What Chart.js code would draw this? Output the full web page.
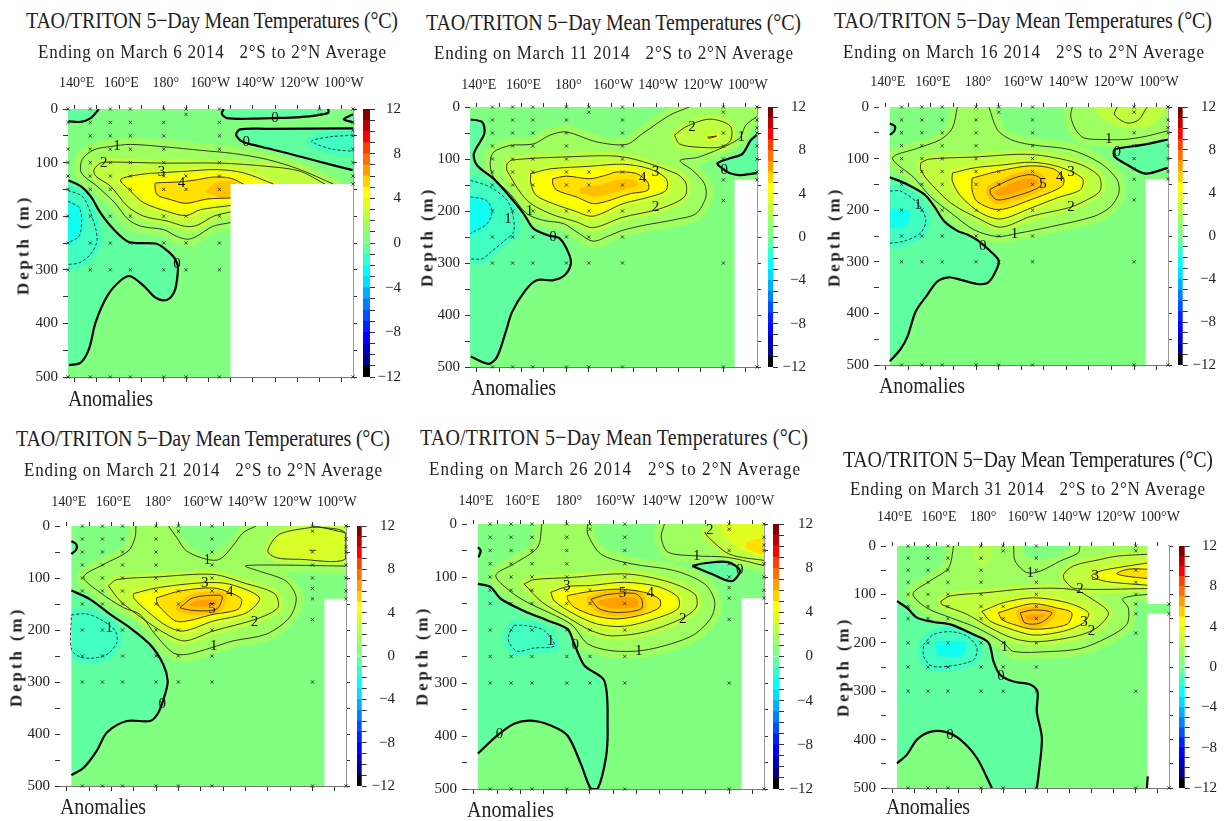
<!DOCTYPE html>
<html>
<head>
<meta charset="utf-8">
<title>TAO/TRITON 5-Day Mean Temperatures</title>
<script src="https://cdn.jsdelivr.net/npm/chart.js@4/dist/chart.umd.min.js"></script>
<style>
html,body{margin:0;background:#fff;overflow:hidden}
#page{position:relative;width:1227px;height:821px}
canvas{position:absolute}
.txt{position:absolute;white-space:pre;font-family:"Liberation Serif",serif;color:#222;line-height:1;transform:translateY(-50%) scaleY(1.15)}
.depth{font-weight:bold;font-size:17px;transform:translate(-50%,-50%) rotate(-90deg)}
</style>
</head>
<body>
<div id="page"></div>
<script>
// axis values
const lonTicks = [140,150,160,170,180,190,200,210,220,230,240,250,260];
const lonLabels = ['140°E','','160°E','','180°','','160°W','','140°W','','120°W','','100°W'];
const barLevels = [-12,-11,-10,-9,-8,-7,-6,-5,-4,-3,-2,-1,0,1,2,3,4,5,6,7,8,9,10,11,12];
const barColors = ['#000000','#000090','#0000C0','#0000FF','#0020FF','#0050FF','#0080FF','#00B0FF','#00DFFF','#00FFFF','#30FFD0','#60FFA0','#80FF80','#A0FF60','#C0FF40','#E0FF20','#FFFF00','#FFD000','#FFA000','#FF7000','#FF4000','#FF0000','#C00000','#800000'];

// mooring longitudes and the depths sampled there
const depthsFull = [0,25,50,75,100,125,150,200,250,300,500];
const depths137 = [0,25,75,100,125,150,200,250,300,500];
const depths190 = [0,10,125,150,200,250,300,500];
const depths250 = [0,10,50,75,100,120,140,180,300,500];
const depths250Top = [0,10];
const depths265 = [0,25,40,50,75,100,125,140,500];
const depths265End = [120,140,500];

const wholeSection = [[136,-5],[266,-5],[266,505],[136,505]];

// 6 March
const p1Zero1 = [[137.2,23],[142.7,24],[147.2,17],[150.1,4],[150.9,0]];
const p1Zero2 = [[206.9,0],[206.1,9],[208.4,17],[220.3,18],[229.3,17],[241.2,15],[248.7,12],[253.9,7],[253.9,0]];
const p1Zero3 = [[265,36],[226,37],[214.3,38],[212.5,48],[215,60],[223.3,70],[235.2,82],[248.7,97],[264.8,114]];
const p1Zero4 = [[137.2,133],[142.7,144],[147.2,163],[151.6,194],[157.6,225],[164.3,248],[176.3,251],[180,259],[184.5,276],[186,288],[186.4,299],[185.2,336],[183,352],[180,357],[176.3,352],[171,330],[165,312],[160.6,320],[154.6,349],[149.4,398],[146.4,448],[142.7,473],[137.5,478]];
const p1Tip = [[265,10],[260.8,19],[265,25]];
const p1Neg1 = [[137,152],[143.4,163],[147.2,194],[150.1,243],[147.2,271],[142,287],[137,290]];
const p1Neg2 = [[137,172],[142,184],[143.1,206],[142,237],[137,250]];
const p1NegRight = [[265,49],[254.6,52],[246.4,60],[254.6,74],[265,79]];
const p1L1 = [[210,212],[202,219],[195,237],[191,243],[186,238],[180,225],[170,219],[164,206],[158,175],[150,144],[143,119],[143.4,94],[148.7,76],[156.1,70],[165,66],[181.5,71],[196.4,77],[211.3,83],[226.3,94],[241.2,113],[256.1,140]];
const p1L2 = [[210,192],[202.4,200],[195,217],[189.7,219],[181.5,209],[171,200],[163.6,181],[156.1,144],[149.4,125],[148.7,113],[151.6,101],[156.1,99],[180,101],[205.4,101],[226.3,107],[241.2,116],[252.4,140]];
const p1L3 = [[210,180],[196.4,188],[190,199],[181.5,191],[171,175],[165.1,153],[160.6,132],[169.6,122],[178.5,119],[190.4,116],[203.9,113],[215.8,119],[229.3,140]];
const p1L4 = [[210,166],[199.4,168],[190,176],[183,169],[177,160],[176,141],[176.3,138],[187.5,136],[194.9,132],[202.4,127],[209.9,129],[215.8,140]];
const p1Core = [[199,155],[203,138],[212,136],[212,163],[205,165]];
const p1Mask = [[210,140],[266,140],[266,505],[210,505]];
const p1Numbers = [[159,70,'1'],[153,101,'2'],[179,118,'3'],[188,138,'4'],[230,17,'0'],[217,62,'0'],[186,289,'0']];

// 11 March
const p2Zero1 = [[137.3,24],[142.4,29],[143.4,51],[138.7,90],[140.1,112],[147.5,138],[154.9,173],[160.9,205],[165.3,234],[172,247],[177.1,253],[180.8,279],[182,301],[179.3,323],[174.2,333],[166.8,333],[161.6,353],[155.7,395],[152.7,436],[149,481],[145.3,494],[137.3,480]];
const p2Zero2 = [[264.9,54],[262.2,64],[258.5,90],[252.6,99],[247.4,108],[247.8,112],[250.4,121],[252.6,127],[257,131],[264.9,127]];
const p2Neg1 = [[137.3,141],[146,154],[153.5,179],[156,205],[156.5,240],[152.7,256],[146,280],[142.4,292],[137.3,292]];
const p2Neg2 = [[137.3,173],[144,179],[146.8,199],[144.7,224],[137.3,243]];
const p2L1 = [[234.8,0],[226,16],[214,51],[206.7,72],[193.4,67],[180,48],[172.7,54],[165.3,71],[154.9,74],[147.5,87],[146,109],[147.5,135],[154.9,167],[162.3,205],[169.7,218],[178.6,224],[184.5,240],[191.9,258],[199.3,247],[205.2,237],[214,228],[229,216],[237.8,205],[242.2,173],[241.5,147],[236.3,122],[230.7,103],[239.3,96],[257,61],[260,35],[265,18]];
const p2L2 = [[153.5,109],[155.7,102],[180,96],[205.2,96],[228.9,128],[233.3,147],[232.6,173],[221.5,196],[205.2,212],[191.9,232],[184.5,221],[172.7,205],[162.3,179],[153.5,122]];
const p2L3 = [[164.1,128],[172.7,119],[190.4,114],[205.2,110],[217.1,119],[224.5,138],[224.5,160],[217.1,173],[205.2,186],[191.9,210],[183,199],[174.2,186],[166.5,170],[164.1,147]];
const p2L4 = [[173.9,138],[180,133],[190.4,138],[197.8,131],[202.3,125],[211.2,128],[216.3,145],[216.3,160],[208.2,167],[192.7,186],[184.5,173],[175.7,160],[173.9,148]];
const p2Core = [[186,155],[195,150],[203,140],[210,140],[212,150],[205,160],[192,172],[186,165]];
const p2Lobe2 = [[228.2,54],[233.3,38],[242.2,24],[248.1,26],[253.3,38],[253.3,64],[248.9,77],[237.8,77],[230.4,71]];
const p2Lobe3 = [[243,58],[247,56],[243.7,60]];
const p2Mask = [[255,140],[266,140],[266,505],[255,505]];
const p2Numbers = [[236,38,'2'],[258,58,'1'],[250.4,122,'0'],[219.7,126,'3'],[214,136,'4'],[219.7,193,'2'],[163.5,200,'1'],[154,215,'1'],[174,250,'0']];

// 16 March
const p3Zero1 = [[141.8,136],[149.6,150],[157,169],[161.4,192],[165.8,221],[171.7,240],[176.1,247],[180.6,258],[187.2,283],[190.1,299],[187.9,325],[185,341],[180.6,343],[173.2,335],[168,330],[162.9,338],[158.4,364],[153.3,396],[149.6,445],[146.6,469],[141.8,493]];
const p3Zero2 = [[141.8,32],[144,37],[143.7,47],[141.8,54]];
const p3Zero3 = [[264.9,63],[254.3,73],[244.7,79],[241.3,83],[241.3,96],[246.9,112],[255,129],[264.9,118]];
const p3Neg1 = [[141.8,163],[146.6,163],[154,186],[157.7,218],[155.5,244],[148.1,260],[141.8,264]];
const p3NegCore = [[141,196],[150,200],[151,215],[148,231],[141,232]];
const p3L1a = [[171.7,0],[169.5,41],[164.3,63],[154,80],[143,99],[152.5,137],[159.9,174],[168.8,205],[179.1,238],[189.4,251],[198.3,245],[213,232],[232.2,212],[239.6,193],[243.2,167],[242.5,141],[235.1,109],[221.9,83],[204.2,73],[195.3,63],[189.4,44],[185.7,0]];
const p3L1b = [[222.6,0],[221.9,18],[224.1,44],[227.8,60],[236.6,63],[245.5,63],[255,57],[264.9,46]];
const p3L2a = [[155.5,108],[159.2,101],[179.1,97],[204.2,92],[224.8,109],[234.4,134],[234.8,163],[226.3,186],[220.4,196],[204.2,212],[190.9,233],[180.6,215],[168.8,186],[158.4,141],[155.5,121]];
const p3L2b = [[242.5,0],[241.3,15],[246.9,31],[252,25],[255,5],[255.8,0]];
const p3Fill2b = [[232,-2],[235,18],[243,37],[256,38],[262,20],[264,-2]];
const p3L3 = [[169.5,128],[179.1,118],[192.4,112],[204.2,107],[216,115],[227,138],[226.3,160],[216,176],[204.2,196],[190.9,217],[182,205],[173.2,173],[169.5,144]];
const p3L4 = [[178.2,138],[189.3,125],[204,114],[214.3,120],[218.8,138],[218,154],[204,180],[190,199],[180.4,183],[178.2,160]];
const p3L5 = [[186.3,159],[196.6,138],[204,131],[208.4,138],[208.4,154],[197.4,173],[189.3,180],[186.3,167]];
const p3Mask = [[255,140],[266,140],[266,505],[255,505]];
const p3MaskLeft = [[136,-5],[141.8,-5],[141.8,505],[136,505]];
const p3Numbers = [[238.8,63,'1'],[242.5,88,'0'],[222,127,'3'],[217,136,'4'],[209.6,150,'5'],[222,194,'2'],[197,246,'1'],[183,269,'0'],[154.3,191,'1']];

// 21 March
const p4Zero1 = [[142.1,124],[150.5,141],[159.5,170],[168.4,196],[177.3,228],[183.2,266],[185.2,298],[184,324],[181,359],[177.3,375],[166.9,375],[158,397],[153.5,432],[147.6,465],[142.1,479]];
const p4Zero2 = [[142.1,29],[144.3,35],[144.3,45],[142.1,54]];
const p4Neg1 = [[142.1,171],[149,169],[156.5,183],[161.7,202],[162.5,224],[158,247],[152,254],[146,252],[142.1,237]];
const p4L1a = [[171,0],[170.6,22],[167.6,48],[156.5,74],[147.6,98],[155,128],[165.4,157],[172.8,170],[179.5,208],[187.7,244],[193.6,247],[204.8,234],[214.4,221],[229.3,208],[239.7,176],[242.7,138],[238.2,106],[226.3,87],[220,77],[229.3,75],[264.7,77]];
const p4L1b = [[185.5,0],[189.2,22],[193.6,48],[202.6,64],[208.5,64],[214.4,38],[218.9,13],[224.8,0]];
const p4Trough = [[189,-2],[194,32],[200,50],[206,50],[212,32],[218,-2]];
const p4L2a = [[158.7,115],[162.4,103],[180.3,98],[205.5,93],[218.9,109],[233,130],[234.5,157],[224.8,179],[205.5,202],[192.9,221],[184.7,208],[174.3,179],[163.9,144]];
const p4L2b = [[250.1,2],[235.2,16],[230,48],[233.8,61],[244.2,64],[264.7,64]];
const p4L2bEnd = [[264.7,13],[253,2],[250.1,2]];
const p4Fill2b = [[236,14],[232,46],[236,60],[266,62],[266,16],[252,5]];
const p4L3 = [[169.9,130],[180.3,119],[201.1,109],[213,112],[226.3,138],[220.4,167],[205.5,183],[192.2,202],[184.7,192],[175.8,163],[169.9,138]];
const p4L4 = [[180.3,138],[190.7,125],[205.5,119],[213,128],[218.2,141],[216.7,160],[205.5,170],[189.9,184],[183.2,163],[180.3,147]];
const p4L5 = [[190.7,157],[196.6,138],[208.5,133],[209.7,138],[207,160],[198.1,163],[192.9,160]];
const p4Mask = [[255.3,140],[266,140],[266,505],[255.3,505]];
const p4MaskLeft = [[136,-5],[142.1,-5],[142.1,505],[136,505]];
const p4Numbers = [[202.9,66,'1'],[201.8,109,'3'],[213,128,'4'],[205,160,'5'],[224,184,'2'],[205.8,231,'1'],[182.8,343,'0'],[159,196,'1'],[250,48,'\u2212']];

// 26 March
const p5Zero1 = [[141.7,113],[147.2,119],[151.5,141],[161.6,164],[171.7,182],[180.3,198],[183.2,226],[187.6,267],[196.2,296],[197.6,384],[196.9,440],[193.3,500],[190.4,500],[186.1,453],[180.3,399],[173.1,380],[164.5,371],[157.3,377],[150.1,399],[141.7,433]];
const p5Zero2 = [[141.7,44],[142.9,50],[142,63]];
const p5Zero3 = [[234.1,79],[239.4,74],[249.5,72],[254.6,88],[251,108],[242.3,94]];
const p5Neg1 = [[157.3,191],[163,192],[170.3,201],[174.6,230],[165.9,234],[158.7,240],[155.1,223],[155.1,208]];
const p5L1a = [[169.3,0],[167.4,44],[157.3,75],[149.4,97],[155.9,128],[163.1,148],[181.8,189],[189,226],[199.1,239],[212,239],[225,226],[235.1,208],[242.3,176],[243.7,145],[239.4,113],[226.5,88],[207.7,75],[194.8,57],[189,19],[189,0]];
const p5L1b = [[222.1,0],[220.7,25],[223.6,53],[235.1,60],[249.5,63],[265.4,79]];
const p5L2a = [[161.6,113],[165.9,105],[181.8,101],[204.8,94],[222.1,107],[235.1,132],[235.8,157],[229.3,179],[213.5,204],[199.1,211],[190.4,201],[180.3,176],[169.5,148]];
const p5L2b = [[239.4,15],[241,25],[250.2,57],[265.4,69]];
const p5Fill3 = [[246,-2],[248,22],[255,48],[266,58],[266,-2]];
const p5Fill4 = [[266,25],[258,33],[257,43],[262,55],[266,58]];
const p5L3 = [[173.1,129],[180.3,118],[190.4,116],[204.8,110],[219.2,118],[227.9,138],[227.9,160],[217.8,179],[204.8,193],[193.3,189],[183.2,170],[174.6,145]];
const p5L4 = [[180.3,135],[189,128],[201.9,123],[213.5,129],[220,142],[220,157],[213.5,170],[201.9,179],[191.9,173],[183.2,157],[180.3,142]];
const p5L5 = [[190.4,142],[197.6,133],[209.2,131],[212.3,142],[212,160],[202,167],[194,160]];
const p5Mask = [[255.3,140],[266,140],[266,505],[255.3,505]];
const p5MaskLeft = [[136,-5],[141.7,-5],[141.7,505],[136,505]];
const p5Numbers = [[241.6,11,'2'],[236,60,'1'],[254.6,87,'0'],[180,118,'3'],[204,131,'5'],[216,131,'4'],[230,180,'2'],[211,240,'1'],[173,220,'1'],[183.7,228,'0'],[151,396,'0']];

// 31 March
const p6Zero1 = [[142,114],[146.5,128],[151,148],[158.5,157],[166.1,162],[176.6,183],[183.4,200],[185.6,238],[188.6,266],[194.7,280],[202.2,286],[205.5,300],[205.2,342],[207.5,397],[206,473],[205.2,500]];
const p6Zero2 = [[184.9,500],[178.1,438],[170.6,400],[163.8,384],[157,384],[151,400],[146.5,431],[142,449]];
const p6Stub = [[255.4,476],[255,500]];
const p6Neg1 = [[154,204],[158.5,183],[166.1,177],[173.6,186],[178.1,210],[176.6,235],[166.1,248],[157.8,248],[154,228]];
const p6NegCore = [[159.3,197],[172.8,199],[172,226],[160,228]];
const p6L1a = [[167.6,0],[165.3,45],[157,72],[149.2,99],[155.5,128],[166.1,148],[178.1,169],[190.2,200],[194.7,218],[211.2,218],[224.8,212],[236.8,190],[245.9,162],[246.6,128],[244,110],[247.4,104],[255.2,100]];
const p6L1b = [[194.7,0],[195.4,31],[200.7,55],[206.7,52],[215.8,31],[224,14],[224.7,0]];
const p6Trough = [[199,-2],[200,20],[207,27],[215,20],[222,-2]];
const p6Blob = [[176,-2],[177,25],[181,46],[185,25],[185,-2]];
const p6L2a = [[161.8,114],[166.1,103],[181.1,97],[202.2,88],[221.8,90],[229.3,107],[237.6,138],[232.3,169],[223.3,186],[205.2,198],[194.7,191],[184.1,169],[173.6,141],[162.3,121]];
const p6L2b = [[255.2,17],[241.4,21],[233.8,28],[221.8,41],[217.3,59],[218,72],[222.5,88],[255.2,88]];
const p6L3a = [[180.4,135],[190.2,117],[203.7,107],[218.8,117],[228.6,138],[226.3,159],[217.3,176],[203.7,184],[191.7,169],[184.1,155]];
const p6L3b = [[255.2,35],[241.4,45],[233.8,52],[230,62],[235.3,72],[241.4,76],[255.2,81]];
const p6L4a = [[187.9,138],[194.7,128],[203.7,119],[214.2,128],[221,138],[218.8,162],[203.7,172],[194.7,162],[189.4,152]];
const p6L4b = [[255.2,48],[246.6,48],[241.4,57],[246.6,63],[255.2,67]];
const p6L5 = [[197.7,138],[203.7,132],[212,138],[206.7,159],[199.9,159]];
const p6Mask1 = [[255.2,-5],[266,-5],[266,120],[255.2,120]];
const p6Mask2 = [[255.2,140],[266,140],[266,505],[255.2,505]];
const p6MaskLeft = [[136,-5],[142,-5],[142,505],[136,505]];
const p6Numbers = [[202.2,55,'1'],[231.6,63,'3'],[224.8,88,'2'],[226.6,157,'3'],[230,176,'2'],[190.6,209,'1'],[189,269,'0'],[166,390,'0']];

const bandStyles = {
  '-2':{fill:'#10FFF0',ring:'#20FFE0',w:4},
  '-1':{fill:'#40FFC0',ring:'#40FFC0',w:10},
  '0':{fill:'#60FFA0',ring:'#60FFA0',w:0},
  '1':{fill:'#A0FF60',ring:'#A0FF60',w:14},
  '2':{fill:'#C0FF40',ring:'#C0FF40',w:8},
  '3':{fill:'#FFFF00',ring:'#E0FF20',w:6},
  '4':{fill:'#FFE000',ring:'#FFE000',w:1},
  '5':{fill:'#FFA000',ring:'#FFC000',w:8}
};

// layer helpers, listed back to front
function band(level, line, closure, noLine){ return {kind:'band',level,line,closure:closure||[],noLine}; }
function loop(level, line){ return {kind:'band',level,line:line.concat([line[0]]),closure:[]}; }
function patch(color, area){ return {kind:'patch',color,area}; }
function mask(area){ return {kind:'patch',color:'#FFFFFF',area,sharp:true}; }
function path(level, line){ return {kind:'path',level,line}; }

const panels = [
 {plot:[67.7,109.3,285,268.4],tickGap:13,bar:[363.3,370,401],
  title:[26,398,20],sub:[38,386,52],date:'March 6',depth:[23,245],anom:[68,153,398],
  marks:[[137,depths137],[147,depthsFull],[156,depthsFull],[165,depthsFull],[180,depthsFull],[190,depths190],[205,depthsFull],[250,depths250Top],[265,depths265]],
  numbers:p1Numbers,
  layers:[band(1,p1L1),band(2,p1L2),band(3,p1L3),band(4,p1L4),patch('#FFC000',p1Core),
   band(0,p1Zero1,[[150,-9],[130,-9],[130,23]]),band(0,p1Zero2,[[254,-9],[207,-9]]),band(0,p1Zero3,[[275,114],[275,36]]),band(0,p1Zero4,[[125,478],[125,133]]),band(0,p1Tip,[[275,25],[275,10]]),
   band(-1,p1Neg1,[[125,290],[125,152]]),band(-2,p1Neg2,[[125,250],[125,172]]),band(-1,p1NegRight,[[275,79],[275,49]]),
   mask(p1Mask)]},
 {plot:[470.3,106.7,287.4,260],tickGap:9,bar:[767.7,773,806],
  title:[426,801,22],sub:[434,793,53],date:'March 11',depth:[427,237],anom:[471,556,387],
  marks:[[147,depthsFull],[156,depthsFull],[165,depthsFull],[180,depthsFull],[190,depths190],[205,depthsFull],[250,depths250],[265,depths265]],
  numbers:p2Numbers,
  layers:[band(1,p2L1,[[275,18],[275,-9],[235,-9]]),loop(2,p2L2),loop(2,p2Lobe2),loop(3,p2Lobe3),loop(3,p2L3),loop(4,p2L4),patch('#FFC000',p2Core),
   band(0,p2Zero1,[[125,480],[125,24]]),band(0,p2Zero2,[[275,127],[275,54]]),
   band(-1,p2Neg1,[[125,292],[125,141]]),band(-2,p2Neg2,[[125,243],[125,173]]),
   mask(p2Mask)]},
 {plot:[878.7,107.3,289,258],tickGap:12,bar:[1178,1182.7,1216],
  title:[834,1212,20],sub:[843,1204,52],date:'March 16',depth:[834,237],anom:[879,965,385],
  marks:[[147,depthsFull],[156,depthsFull],[165,depthsFull],[180,depthsFull],[190,depths190],[205,depthsFull],[250,depths250],[265,depths265]],
  numbers:p3Numbers,
  layers:[band(1,p3L1a),band(1,p3L1b,[[275,46],[275,-9],[222,-9]]),patch('#C0FF40',p3Fill2b),loop(2,p3L2a),band(2,p3L2b),
   loop(3,p3L3),loop(4,p3L4),loop(5,p3L5),
   band(0,p3Zero1,[[125,493],[125,136]]),band(0,p3Zero2,[[125,54],[125,32]]),band(0,p3Zero3,[[275,118],[275,63]]),
   band(-1,p3Neg1,[[125,264],[125,163]]),patch('#10FFF0',p3NegCore),
   mask(p3Mask),mask(p3MaskLeft)]},
 {plot:[60.3,526,285.7,260],tickGap:11,bar:[356.7,361.7,395],
  title:[16,390,438],sub:[24,382,470],date:'March 21',depth:[16,657],anom:[60,146,806],
  marks:[[147,depthsFull],[156,depthsFull],[165,depthsFull],[180,depthsFull],[190,depths190],[205,depthsFull],[250,depths250],[265,depths265]],
  numbers:p4Numbers,
  layers:[band(1,p4L1a,[[275,77],[275,-9],[171,-9]]),patch('#80FF80',p4Trough),loop(2,p4L2a),band(2,p4L2b.concat(p4L2bEnd)),patch('#D8FF28',p4Fill2b),
   loop(3,p4L3),loop(4,p4L4),loop(5,p4L5),
   band(0,p4Zero1,[[125,479],[125,124]]),band(0,p4Zero2,[[125,54],[125,29]]),
   loop(-1,p4Neg1),
   path(1,p4L1b),path(2,p4L2bEnd),
   mask(p4Mask),mask(p4MaskLeft)]},
 {plot:[466.7,524.3,296.6,265],tickGap:10,bar:[773.3,779,813],
  title:[420,808,437],sub:[429,800,469],date:'March 26',depth:[422,656],anom:[467,554,809],
  marks:[[147,depthsFull],[156,depthsFull],[165,depthsFull],[180,depthsFull],[190,depths190],[205,depthsFull],[250,depths250],[265,depths265]],
  numbers:p5Numbers,
  layers:[band(1,p5L1a),band(1,p5L1b,[[275,79],[275,-9],[222,-9]]),loop(2,p5L2a),band(2,p5L2b,[[275,69],[275,-9],[245,-9]]),patch('#E0FF20',p5Fill3),patch('#FFE000',p5Fill4),
   loop(3,p5L3),loop(4,p5L4),loop(5,p5L5),
   band(0,p5Zero1,[[125,433],[125,113]]),band(0,p5Zero2,[[125,63],[125,44]]),loop(0,p5Zero3),
   loop(-1,p5Neg1),
   mask(p5Mask),mask(p5MaskLeft)]},
 {plot:[886.3,546,283.4,241.7],tickGap:16,bar:[1179,1184.7,1217],
  title:[843,1213,459],sub:[850,1205,489],date:'March 31',depth:[843,667],anom:[886,970,806],
  marks:[[147,depthsFull],[156,depthsFull],[165,depthsFull],[180,depthsFull],[190,depths190],[205,depthsFull],[250,depths250],[265,depths265End]],
  numbers:p6Numbers,
  layers:[band(1,p6L1a,[[275,100],[275,-9],[167,-9]]),patch('#80FF80',p6Trough),patch('#B0FF50',p6Blob),loop(2,p6L2a),band(2,p6L2b),
   loop(3,p6L3a),band(3,p6L3b),loop(4,p6L4a),band(4,p6L4b),loop(5,p6L5),
   band(0,p6Zero1.concat(p6Zero2),[[125,449],[125,114]],true),
   loop(-1,p6Neg1),patch('#10FFF0',p6NegCore),
   path(0,p6Zero1),path(0,p6Zero2),path(0,p6Stub),path(1,p6L1b),
   mask(p6Mask1),mask(p6Mask2),mask(p6MaskLeft)]}
];

const toXY = pts => pts.map(p => ({x:p[0],y:p[1]}));

function shapeSet(data, color, ring, width, sharp){
  return {data:toXY(data),showLine:true,pointRadius:0,fill:'shape',backgroundColor:color,borderColor:ring,
    borderWidth:width,tension:sharp?0:0.3,clip:0,borderJoinStyle:'round',borderCapStyle:'round'};
}
function lineSet(level, line){
  return {data:toXY(line),showLine:true,pointRadius:0,fill:false,borderColor:level===0?'#000':'#222',
    borderWidth:level===0?2.2:0.9,borderDash:level<0?[3,2]:[],tension:0.3,clip:0};
}

// contour numbers are written on the scales' own positions
const numberPlugin = {
  id:'contourNumbers',
  afterDatasetsDraw(chart, args, opts){
    const {ctx, scales} = chart;
    ctx.save();
    ctx.font = '15px "Liberation Serif"';
    ctx.fillStyle = '#111';
    ctx.textAlign = 'center';
    ctx.textBaseline = 'middle';
    opts.items.forEach(n => ctx.fillText(n[2], scales.x.getPixelForValue(n[0]), scales.y.getPixelForValue(n[1])));
    ctx.restore();
  }
};

const lonFont = {family:'"Liberation Serif"',size:14};
const tickFont = {family:'"Liberation Serif"',size:15};
const page = document.getElementById('page');

function addCanvas(l, t, w, h){
  const c = document.createElement('canvas');
  c.width = Math.round(w); c.height = Math.round(h);
  c.style.left = l+'px'; c.style.top = t+'px';
  c.style.width = Math.round(w)+'px'; c.style.height = Math.round(h)+'px';
  page.appendChild(c);
  return c;
}

function addText(text, l, r, cy, size){
  const d = document.createElement('div');
  d.className = 'txt';
  d.textContent = text;
  d.style.left = l+'px'; d.style.top = cy+'px'; d.style.fontSize = size+'px';
  page.appendChild(d);
  const w = d.getBoundingClientRect().width;
  d.style.letterSpacing = ((r-l-w)/(text.length-1))+'px';
}

function drawPanel(p){
  const [L,T,W,H] = p.plot;
  const datasets = [shapeSet(wholeSection,'#80FF80','#80FF80',0,true)];
  const lines = [];
  p.layers.forEach(a => {
    if(a.kind==='patch'){ datasets.push(shapeSet(a.area,a.color,a.color,0,a.sharp)); return; }
    if(a.kind==='path'){ lines.push(lineSet(a.level,a.line)); return; }
    const s = bandStyles[a.level];
    datasets.push(shapeSet(a.line.concat(a.closure),s.fill,s.ring,s.w));
    if(!a.noLine) lines.push(lineSet(a.level,a.line));
  });
  const marks = [];
  p.marks.forEach(m => m[1].forEach(d => marks.push([m[0],d])));
  lines.push({data:toXY(marks),pointStyle:'crossRot',pointRadius:2.3,pointBorderWidth:0.8,pointBorderColor:'#222',pointBackgroundColor:'#222',showLine:false,clip:false});
  const all = datasets.concat(lines);
  all.forEach((d,i) => { d.order = all.length-i; });

  const gridTicks = len => ({display:true,drawOnChartArea:false,drawTicks:true,tickLength:len,color:'#333',lineWidth:1});
  const lonAxis = {type:'linear',min:137,max:265,afterBuildTicks:s => { s.ticks = lonTicks.map(v => ({value:v})); }};
  new Chart(addCanvas(L-45,T-50,W+95,H+80),{
    type:'scatter',
    data:{datasets:all},
    options:{
      responsive:false,animation:false,events:[],
      layout:{padding:0},
      plugins:{legend:{display:false},tooltip:{enabled:false},contourNumbers:{items:p.numbers}},
      scales:{
        x:{...lonAxis,position:'bottom',grid:gridTicks(5),border:{color:'#777'},ticks:{display:false},afterFit:s => { s.height = 30; }},
        x2:{...lonAxis,position:'top',grid:gridTicks(4),border:{color:'#777'},
          ticks:{color:'#222',font:lonFont,padding:p.tickGap,labelOffset:2,maxRotation:0,autoSkip:false,callback:(v,i) => lonLabels[i]},
          afterFit:s => { s.height = 50; }},
        y:{type:'linear',min:0,max:500,reverse:true,position:'left',grid:gridTicks(5),border:{color:'#555'},
          ticks:{color:'#222',font:tickFont,padding:5,stepSize:50,autoSkip:false,callback:v => v%100===0?String(v):''},
          afterFit:s => { s.width = 45; }},
        y2:{type:'linear',min:0,max:500,reverse:true,position:'right',grid:gridTicks(4),border:{color:'#999',width:2},
          ticks:{display:false,stepSize:50},afterFit:s => { s.width = 50; }}
      }
    },
    plugins:[numberPlugin]
  });

  // colour bar
  const [bl,br,labelEnd] = p.bar;
  const barSets = barColors.map((c,i) => ({data:[[barLevels[i],barLevels[i+1]]],backgroundColor:c,borderWidth:0,barPercentage:1,categoryPercentage:1,grouped:false}));
  new Chart(addCanvas(bl,T-20,labelEnd-bl+4,H+40),{
    type:'bar',
    data:{labels:[''],datasets:barSets},
    options:{
      responsive:false,animation:false,events:[],
      layout:{padding:{top:20,bottom:20,right:4}},
      plugins:{legend:{display:false},tooltip:{enabled:false}},
      scales:{
        x:{display:false},
        y:{type:'linear',min:-12,max:12,position:'right',
          grid:{display:true,drawOnChartArea:false,drawTicks:true,tickLength:5,color:'#333'},border:{display:false},
          ticks:{color:'#222',font:tickFont,stepSize:1,autoSkip:false,crossAlign:'far',padding:Math.max(1,labelEnd-br-28.5),callback:v => v%4===0?String(v).replace('-','\u2212'):''},
          afterFit:s => { s.width = labelEnd-br; }}
      }
    }
  });

  addText('TAO/TRITON 5\u2212Day Mean Temperatures (°C)',p.title[0],p.title[1],p.title[2],20);
  addText('Ending on '+p.date+' 2014   2°S to 2°N Average',p.sub[0],p.sub[1],p.sub[2],17);
  addText('Anomalies',p.anom[0],p.anom[1],p.anom[2],20);
  const dep = document.createElement('div');
  dep.className = 'txt depth';
  dep.textContent = 'Depth (m)';
  dep.style.letterSpacing = '2.9px';
  dep.style.left = p.depth[0]+'px'; dep.style.top = p.depth[1]+'px';
  page.appendChild(dep);
}

panels.forEach(drawPanel);
</script>
</body>
</html>
